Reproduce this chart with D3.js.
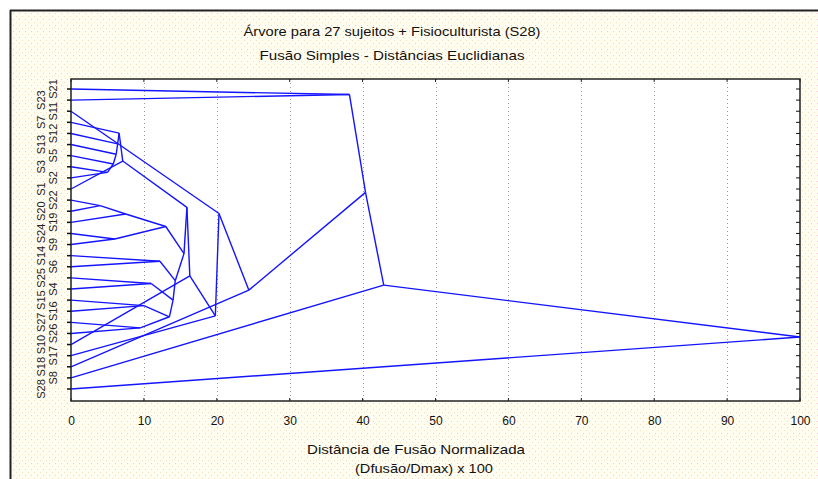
<!DOCTYPE html>
<html><head><meta charset="utf-8">
<script src="https://cdn.jsdelivr.net/npm/d3@7"></script>
<style>body{margin:0;background:#fff}</style>
</head><body>
<svg id="c" width="818" height="479"></svg>
<script>
// Leaf labels, top to bottom
const leafLabels = ["S21","S23","S11","S7","S12","S13","S5","S3","S2","S1","S22","S20","S19","S24","S9","S14","S6","S25","S4","S15","S16","S27","S26","S10","S17","S18","S8","S28"];
// Merges: children ids (leaves 0..27, merged nodes 28+ in order) and fusion distance
const mergeA    = [7, 6, 5, 4, 3, 32, 10, 34, 13, 35, 15, 17, 19, 21, 40, 39, 38, 37, 33, 46, 24, 2, 49, 0, 51, 52, 53];
const mergeB    = [8, 28, 29, 30, 31, 9, 11, 12, 14, 36, 16, 18, 20, 22, 41, 42, 43, 44, 45, 23, 47, 48, 25, 1, 50, 26, 27];
const mergeDist = [5.0, 5.8, 6.2, 6.4, 6.6, 7.1, 4.0, 7.5, 6.0, 13.0, 12.2, 11.0, 10.0, 9.5, 13.5, 14.0, 14.3, 15.5, 15.9, 16.3, 19.8, 20.3, 24.4, 38.2, 40.4, 42.9, 100];
const xTicks = [0,10,20,30,40,50,60,70,80,90,100];
const titleLines = ["Árvore para 27 sujeitos + Fisioculturista (S28)", "Fusão Simples - Distâncias Euclidianas"];
const xTitleLines = ["Distância de Fusão Normalizada", "(Dfusão/Dmax) x 100"];

const svg = d3.select("#c");
const W = 818, H = 479;
const P = {l: 71, r: 800, t: 79, b: 401};
const font = "'Liberation Sans', Arial, sans-serif";

// background panel with dotted pattern
const defs = svg.append("defs");
const pat = defs.append("pattern").attr("id","dots").attr("width",6).attr("height",6).attr("patternUnits","userSpaceOnUse");
pat.append("rect").attr("width",6).attr("height",6).attr("fill","#fffdf0");
pat.append("rect").attr("x",1).attr("y",1).attr("width",1).attr("height",1).attr("fill","#f3c9dc");
pat.append("rect").attr("x",4).attr("y",4).attr("width",1).attr("height",1).attr("fill","#f7e0c0");
svg.append("rect").attr("width",W).attr("height",H).attr("fill","#fff");
svg.append("rect").attr("x",10).attr("y",10).attr("width",W-10).attr("height",H-10).attr("fill","url(#dots)");
svg.append("line").attr("x1",10).attr("x2",W).attr("y1",10.5).attr("y2",10.5).attr("stroke","#222").attr("stroke-width",2);
svg.append("line").attr("x1",10.5).attr("x2",10.5).attr("y1",10).attr("y2",H).attr("stroke","#222").attr("stroke-width",2);

const x = d3.scaleLinear().domain([0,100]).range([P.l, P.r]);
const y = d3.scalePoint().domain(d3.range(leafLabels.length)).range([89, 389]);

svg.append("rect").attr("x",P.l).attr("y",P.t).attr("width",P.r-P.l).attr("height",P.b-P.t).attr("fill","#fff");

// grid
svg.append("g").selectAll("line").data(xTicks.filter(d=>d>0&&d<100)).join("line")
  .attr("x1",d=>Math.round(x(d))+0.5).attr("x2",d=>Math.round(x(d))+0.5)
  .attr("y1",P.t).attr("y2",P.b).attr("stroke","#999").attr("stroke-dasharray","1,3");

// build nodes
const nodes = leafLabels.map((l,i)=>({d:0, y:y(i)}));
mergeA.forEach((a,i)=>{
  const b = mergeB[i];
  nodes.push({d: mergeDist[i], y: (nodes[a].y + nodes[b].y)/2, kids:[a,b]});
});
const segs = [];
nodes.forEach(n=>{ if(n.kids) n.kids.forEach(k=>segs.push([nodes[k], n])); });
svg.append("g").selectAll("line").data(segs).join("line")
  .attr("x1",s=>x(s[0].d)).attr("y1",s=>s[0].y)
  .attr("x2",s=>x(s[1].d)).attr("y2",s=>s[1].y)
  .attr("stroke","#1414ff").attr("stroke-width",1.4);

// frame
svg.append("rect").attr("x",P.l).attr("y",P.t).attr("width",P.r-P.l).attr("height",P.b-P.t)
  .attr("fill","none").attr("stroke","#222").attr("stroke-width",1.5);

// x axis
const xa = d3.axisBottom(x).tickValues(xTicks).tickSize(0).tickPadding(15);
const gx = svg.append("g").attr("transform",`translate(0,${P.b})`).call(xa);
gx.select(".domain").remove();
gx.selectAll("text").attr("font-family",font).attr("font-size",12).attr("fill","#111");
svg.append("g").selectAll("line").data(xTicks).join("line")
  .attr("x1",d=>x(d)).attr("x2",d=>x(d)).attr("y1",P.b).attr("y2",P.b-3).attr("stroke","#222");
svg.append("g").selectAll("line").data(xTicks).join("line")
  .attr("x1",d=>x(d)).attr("x2",d=>x(d)).attr("y1",P.t).attr("y2",P.t+3).attr("stroke","#222");

// y ticks
const yi = d3.range(leafLabels.length);
svg.append("g").selectAll("line").data(yi).join("line")
  .attr("x1",P.l-4).attr("x2",P.l).attr("y1",d=>y(d)).attr("y2",d=>y(d)).attr("stroke","#111").attr("stroke-width",1.5);
svg.append("g").selectAll("line").data(yi).join("line")
  .attr("x1",P.r-4).attr("x2",P.r).attr("y1",d=>y(d)).attr("y2",d=>y(d)).attr("stroke","#111");

// leaf labels rotated
svg.append("g").selectAll("text").data(yi).join("text")
  .attr("transform",d=>`translate(${d%2===0?57:45},${y(d)}) rotate(-90)`)
  .attr("text-anchor","middle").attr("font-family",font).attr("font-size",11).attr("fill","#222")
  .text(d=>leafLabels[d]);

// titles
const titleW = [297, 265];
svg.append("g").selectAll("text").data(titleLines).join("text")
  .attr("x",392).attr("y",(d,i)=>36+i*24).attr("text-anchor","middle")
  .attr("textLength",(d,i)=>titleW[i]).attr("lengthAdjust","spacingAndGlyphs")
  .attr("font-family",font).attr("font-size",13).attr("fill","#111").text(d=>d);
const xtW = [218, 138];
svg.append("g").selectAll("text").data(xTitleLines).join("text")
  .attr("x",(d,i)=>i?424:416).attr("y",(d,i)=>454+i*19).attr("text-anchor","middle")
  .attr("textLength",(d,i)=>xtW[i]).attr("lengthAdjust","spacingAndGlyphs")
  .attr("font-family",font).attr("font-size",13).attr("fill","#111").text(d=>d);
</script>
</body></html>
